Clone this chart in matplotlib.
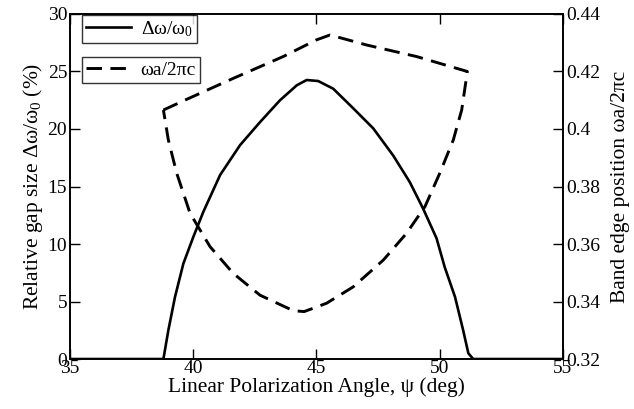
import numpy as np
import matplotlib
matplotlib.use("Agg")
import matplotlib.pyplot as plt
from matplotlib.lines import Line2D

plt.rcParams["font.family"] = ["Liberation Serif", "DejaVu Serif"]
plt.rcParams["mathtext.fontset"] = "custom"
plt.rcParams["mathtext.rm"] = "Liberation Serif"
plt.rcParams["mathtext.it"] = "Liberation Serif"
plt.rcParams["mathtext.default"] = "regular"

# relative gap size (%) vs polarization angle
gap_angle = [35, 38.79, 38.99, 39.26, 39.6, 40.0, 40.41, 41.09, 41.9, 42.71,
             43.52, 44.2, 44.6, 45.07, 45.68, 46.49, 47.3, 48.11, 48.78,
             49.32, 49.87, 50.2, 50.62, 50.95, 51.16, 51.36, 55]
gap_size = [0, 0, 2.5, 5.4, 8.3, 10.6, 12.8, 16.0, 18.6, 20.6,
            22.5, 23.8, 24.26, 24.17, 23.5, 21.8, 20.06, 17.7, 15.4,
            13.1, 10.5, 8.0, 5.4, 2.5, 0.5, 0, 0]

# band edges (wa/2pi c)
upper_angle = [38.79, 39.6, 41.62, 43.65, 45.0, 45.55, 47.04, 49.06, 51.12]
upper_freq = [0.4066, 0.4098, 0.4176, 0.4252, 0.4310, 0.4327, 0.4292, 0.4252, 0.4200]
lower_angle = [38.79, 38.99, 39.33, 39.87, 40.68, 41.62, 42.71, 44.06, 44.5,
               45.41, 46.49, 47.71, 48.65, 49.4, 50.0, 50.55, 50.89, 51.12]
lower_freq = [0.4066, 0.3962, 0.3846, 0.3707, 0.3591, 0.3498, 0.3422, 0.3368, 0.3365,
              0.3394, 0.3451, 0.3544, 0.3637, 0.3730, 0.3846, 0.3962, 0.4066, 0.4200]

left_ticks = [0, 5, 10, 15, 20, 25, 30]
right_ticks = [0.32, 0.34, 0.36, 0.38, 0.40, 0.42, 0.44]
right_labels = ["0.32", "0.34", "0.36", "0.38", "0.4", "0.42", "0.44"]
x_ticks = [35, 40, 45, 50, 55]

fs_tick = 14
fs_lab = 15.5
fig = plt.figure(figsize=(6.34, 4.09), dpi=100)
ax = fig.add_axes([0.1104, 0.1222, 0.7776, 0.8436])
ax2 = ax.twinx()

ax.plot(gap_angle, gap_size, color="black", lw=1.9, solid_joinstyle="round")
edge_x = upper_angle + lower_angle[::-1]
edge_y = upper_freq + lower_freq[::-1]
ax2.plot(edge_x, edge_y, color="black", lw=2.1, dashes=(5.3, 2.9))

ax.set_xlim(35, 55)
ax.set_ylim(0, 30)
ax2.set_ylim(0.32, 0.44)
ax.set_xticks(x_ticks)
ax.set_yticks(left_ticks)
ax2.set_yticks(right_ticks)
ax2.set_yticklabels(right_labels)

for a in (ax, ax2):
    a.tick_params(direction="in", length=7, width=1, labelsize=fs_tick, pad=2,
                  top=True)
    for s in a.spines.values():
        s.set_linewidth(1.2)
ax.tick_params(axis="x", pad=1)

ax.set_xlabel("Linear Polarization Angle, ψ (deg)", fontsize=fs_lab, labelpad=0)
ax.set_ylabel("Relative gap size Δω/ω$_0$ (%)", fontsize=fs_lab, labelpad=2)
ax2.set_ylabel("Band edge position ωa/2πc", fontsize=fs_lab, labelpad=8)

h1 = Line2D([], [], color="black", lw=1.9)
h2 = Line2D([], [], color="black", lw=2.1, dashes=(5.3, 2.9))
kw = dict(fontsize=14, frameon=True, fancybox=False, edgecolor="black",
          handlelength=2.3, handletextpad=0.5, borderpad=0.2, borderaxespad=0)
leg1 = ax2.legend([h1], ["Δω/ω$_0$"], loc="upper left",
                  bbox_to_anchor=(0.025, 0.997), **kw)
leg1.get_frame().set_linewidth(1.0)
ax2.add_artist(leg1)
leg2 = ax2.legend([h2], ["ωa/2πc"], loc="upper left",
                  bbox_to_anchor=(0.025, 0.875), **kw)
leg2.get_frame().set_linewidth(1.0)

fig.savefig("out.png", dpi=100)
